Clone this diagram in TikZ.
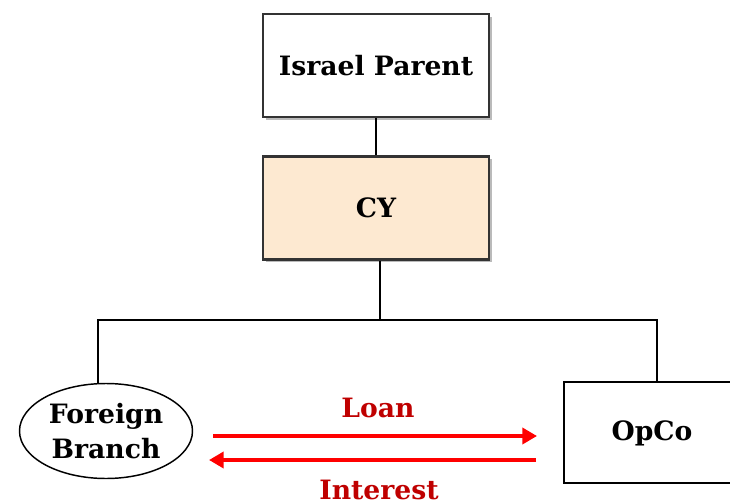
\documentclass[tikz,border=0pt]{standalone}
\usepackage{fontspec}
\setmainfont{DejaVu Serif}
\usetikzlibrary{shapes.geometric,shadows,arrows.meta}
\begin{document}
\begin{tikzpicture}[x=0.0264cm,y=-0.0264cm,
  lbl/.style={font=\bfseries\fontsize{20}{26}\selectfont},
  entity/.style={draw=black!80,line width=1.8pt,minimum width=226*0.0264cm,minimum height=103*0.0264cm,
    drop shadow={shadow xshift=2pt,shadow yshift=-2pt,opacity=0.45,fill=black!60}},
  link/.style={draw=black,line width=0.8pt},
  flow/.style={draw=red,line width=3.2pt,-{Triangle[length=11pt,width=12pt]}},
  flowlbl/.style={lbl,text=red!75!black}]
\useasboundingbox (0,0) rectangle (730,504);
\begin{scope}
\clip (0,0) rectangle (730,504);
\node[entity,fill=white,lbl] (parent) at (376,65.5) {Israel Parent};
\node[entity,fill={rgb,255:red,253;green,233;blue,209},lbl] (cy) at (376,208) {CY};
\node[draw=black,line width=1.8pt,minimum width=180*0.0264cm,minimum height=101*0.0264cm,anchor=west] (opco) at (563,432.5) {};
\node[lbl] at (652,433) {OpCo};
\node[draw=black,line width=1.1pt,ellipse,minimum width=173*0.0264cm,minimum height=95*0.0264cm,
  align=center,lbl,inner sep=0pt] (branch) at (106,431) {Foreign\\Branch};
\draw[link] (parent.south) -- (cy.north);
\coordinate (hub) at (380,320);
\coordinate (lefttop) at (98,320);
\draw[link] (cy.south -| hub) -- (hub);
\draw[link] (branch.north -| lefttop) -- (lefttop) -- (hub) -| (opco.north -| 657,0);
\coordinate (l1) at (213,436);
\coordinate (l2) at (537,436);
\coordinate (i1) at (536,460);
\coordinate (i2) at (209,460);
\draw[flow] (l1) -- (l2);
\draw[flow] (i1) -- (i2);
\node[flowlbl] at (378,408) {Loan};
\node[flowlbl] at (379,490) {Interest};
\end{scope}
\end{tikzpicture}
\end{document}
